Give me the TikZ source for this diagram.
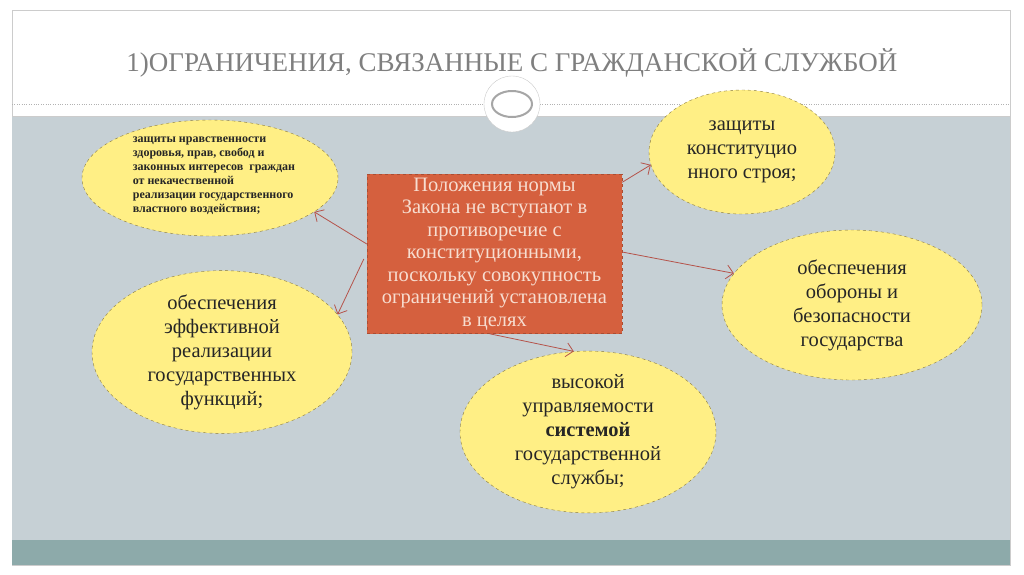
\documentclass[tikz,border=0pt]{standalone}
\usepackage{fontspec}
\setmainfont{Liberation Serif}
\usetikzlibrary{arrows.meta,positioning,shapes.geometric}
\definecolor{bandgray}{HTML}{C6D0D5}
\definecolor{barteal}{HTML}{8DAAAA}
\definecolor{titlegray}{HTML}{7F7F7F}
\definecolor{ovalfill}{HTML}{FFEF85}
\definecolor{ovaldraw}{HTML}{8A7A3A}
\definecolor{boxfill}{HTML}{D5603E}
\definecolor{boxtext}{HTML}{F7DDD0}
\definecolor{linkred}{HTML}{B5534A}
\tikzset{
  oval/.style={ellipse, draw=ovaldraw, dashed, fill=ovalfill, inner sep=0pt, align=center, text=black!85, font=\fontsize{20.5}{24}\selectfont},
  link/.style={-{Straight Barb[length=7pt]}, linkred, line width=0.8pt}
}
\begin{document}
\begin{tikzpicture}[x=1pt,y=-1pt]
    % Background
    \fill[white] (0,0) rectangle (1024,574);
    \draw[gray!40] (12,10) rectangle (1010,565);
    \fill[bandgray] (12,116) rectangle (1010,540);
    \fill[barteal] (12,540) rectangle (1010,565);
    \draw[gray!60, dotted] (12,104) -- (1010,104);
    \draw[gray!40] (12,116) -- (1010,116);
    \node[circle, fill=white, draw=gray!40, minimum size=56pt] (ring) at (512,104) {};
    \draw[gray!70, line width=2pt] (ring.center) ellipse (20pt and 13pt);

    % Title
    \node[font=\fontsize{27}{30}\selectfont, color=titlegray] (title) at (512,63) {1)ОГРАНИЧЕНИЯ, СВЯЗАННЫЕ С ГРАЖДАНСКОЙ СЛУЖБОЙ};

    % Central box
    \node[fill=boxfill, draw=boxfill!80!black, dashed, minimum width=255pt, minimum height=152pt, align=center,
          text=boxtext, font=\fontsize{20.5}{22.5}\selectfont] (norm) at (494.5,254)
          {Положения нормы\\Закона не вступают в\\противоречие с\\конституционными,\\поскольку совокупность\\ограничений установлена\\в целях};

    % Ovals
    \node[oval, minimum width=256pt, minimum height=116pt] (moral) at (210,178) {};
    \node[align=left, text=black!85, font=\bfseries\fontsize{12}{14}\selectfont] at (214,176)
          {защиты нравственности\\здоровья, прав, свобод и\\законных интересов~ граждан\\от некачественной\\реализации государственного\\властного воздействия;};
    \node[oval, minimum width=186pt, minimum height=124pt] (constit) at (742,152) {защиты\\конституцио\\нного строя;};
    \node[oval, minimum width=260pt, minimum height=150pt] (defence) at (852,305) {обеспечения\\обороны и\\безопасности\\государства};
    \node[oval, minimum width=260pt, minimum height=150pt] (functions) at (222,352) {обеспечения\\эффективной\\реализации\\государственных\\функций;};
    \node[oval, minimum width=256pt, minimum height=150pt] (service) at (588,432) {высокой\\управляемости\\\textbf{системой}\\государственной\\службы;};

    % Connectors
    \draw[link] (norm.west) ++(0,-10) -- (moral.-18);
    \draw[link] (norm.west) ++(-3,5) -- (functions.18);
    \draw[link] (norm.north east) ++(0,8) -- (constit.188);
    \draw[link] (norm.east) ++(0,-2) -- (defence.165);
    \draw[link] (norm.south) ++(-5,0) -- (service.100);
\end{tikzpicture}
\end{document}
